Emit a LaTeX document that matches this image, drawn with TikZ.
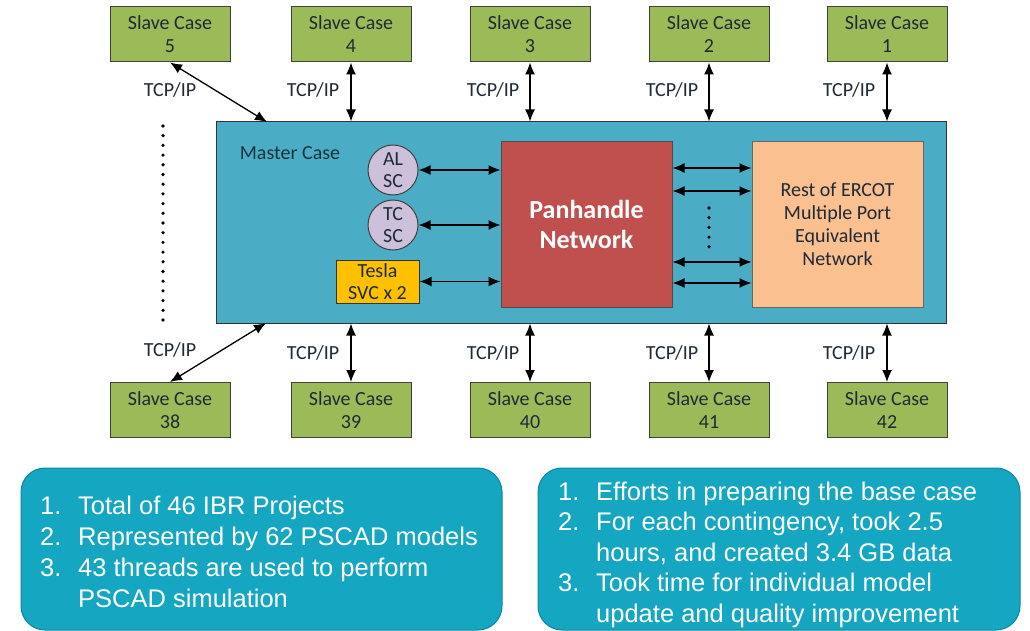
\documentclass[tikz,border=0pt]{standalone}
\usepackage{fontspec}
\setmainfont{Carlito}
\newfontfamily\arialfont{Liberation Sans}
\usetikzlibrary{arrows.meta}
\definecolor{slavegreen}{HTML}{9BBB59}
\definecolor{masterblue}{HTML}{4BACC6}
\definecolor{panred}{HTML}{C0504D}
\definecolor{restpeach}{HTML}{FAC090}
\definecolor{scpurple}{HTML}{CCC0DA}
\definecolor{teslayellow}{HTML}{FFC000}
\definecolor{infoteal}{HTML}{15A6C1}
\definecolor{darktext}{HTML}{1F2A36}
\tikzstyle{arrow} = [line width=1.3pt,<->,>={Latex[length=12pt,width=10pt]}]
\tikzstyle{slave} = [draw=black!75, line width=1pt, fill=slavegreen, minimum width=120pt, minimum height=55pt, inner sep=0pt, align=center, text=darktext, font=\fontsize{20}{23}\selectfont]
\tikzstyle{lbl} = [inner sep=0pt, text=darktext, font=\fontsize{20}{23}\selectfont]
\tikzstyle{sc} = [circle, draw=black!75, line width=1pt, fill=scpurple, minimum size=50pt, inner sep=0pt, align=center, text=darktext, font=\fontsize{20}{22}\selectfont]
\tikzstyle{dotline} = [line width=3.6pt, line cap=round, dash pattern=on 0pt off 9.7pt]
\tikzstyle{info} = [draw=infoteal!80!black, line width=1pt, fill=infoteal, rounded corners=24pt, inner sep=0pt]

\begin{document}
\begin{tikzpicture}[x=1pt, y=-1pt]
        \clip (0,0) rectangle (1030,631);
        % Master case
        \node[draw=black!80, line width=1pt, fill=masterblue, minimum width=730pt, minimum height=201pt, inner sep=0pt] (master) at (581,222.5) {};
        \node[lbl, text=masterblue!30!black] (mlabel) at (290,153) {Master Case};
        \node[sc] (al) at (393,170) {AL\\SC};
        \node[sc] (tc) at (393,225) {TC\\SC};
        \node[draw=black!80, line width=1pt, fill=teslayellow, minimum width=83pt, minimum height=43pt, inner sep=0pt, align=center, text=darktext, font=\fontsize{20}{22}\selectfont] (tesla) at (377.5,281.5) {Tesla\\SVC x 2};
        \node[draw=black!70, line width=1pt, fill=panred, minimum width=171pt, minimum height=165pt, inner sep=0pt, align=center, text=white, font=\fontsize{26}{30}\selectfont\bfseries] (pan) at (586.5,224.5) {Panhandle\\Network};
        \node[draw=black!60, line width=1pt, fill=restpeach, minimum width=171pt, minimum height=165pt, inner sep=0pt, align=center, text=darktext, font=\fontsize{20}{23}\selectfont] (rest) at (837.5,224.5) {Rest of ERCOT\\Multiple Port\\Equivalent\\Network};

        % Slave cases, top row
        \node[slave] (s5) at (170,34.5) {Slave Case\\5};
        \node[slave] (s4) at (351,34.5) {Slave Case\\4};
        \node[slave] (s3) at (530,34.5) {Slave Case\\3};
        \node[slave] (s2) at (709,34.5) {Slave Case\\2};
        \node[slave] (s1) at (887,34.5) {Slave Case\\1};

        % Slave cases, bottom row
        \node[slave] (s38) at (170,410) {Slave Case\\38};
        \node[slave] (s39) at (351,410) {Slave Case\\39};
        \node[slave] (s40) at (530,410) {Slave Case\\40};
        \node[slave] (s41) at (709,410) {Slave Case\\41};
        \node[slave] (s42) at (887,410) {Slave Case\\42};

        % TCP/IP labels
        \node[lbl] (t5) at (170,90) {TCP/IP};
        \node[lbl] (t4) at (313,90) {TCP/IP};
        \node[lbl] (t3) at (493,90) {TCP/IP};
        \node[lbl] (t2) at (672,90) {TCP/IP};
        \node[lbl] (t1) at (849,90) {TCP/IP};
        \node[lbl] (t38) at (170,350) {TCP/IP};
        \node[lbl] (t39) at (313,353) {TCP/IP};
        \node[lbl] (t40) at (493,353) {TCP/IP};
        \node[lbl] (t41) at (672,353) {TCP/IP};
        \node[lbl] (t42) at (849,353) {TCP/IP};

        \coordinate (m5) at (267,122);
        \coordinate (m38) at (266,323);

        \draw[arrow] (s5.south) -- (m5);
        \draw[arrow] (s4) -- (s4 |- master.north);
        \draw[arrow] (s3) -- (s3 |- master.north);
        \draw[arrow] (s2) -- (s2 |- master.north);
        \draw[arrow] (s1) -- (s1 |- master.north);
        \draw[arrow] (s38.north) -- (m38);
        \draw[arrow] (s39) -- (s39 |- master.south);
        \draw[arrow] (s40) -- (s40 |- master.south);
        \draw[arrow] (s41) -- (s41 |- master.south);
        \draw[arrow] (s42) -- (s42 |- master.south);

        \draw[arrow] (al) -- (al -| pan.west);
        \draw[arrow] (tc) -- (tc -| pan.west);
        \draw[arrow] (tesla) -- (tesla -| pan.west);
        \foreach \dy in {56.5,33.5,-37.5,-58.5}
            \draw[arrow] ([yshift=\dy pt]pan.east) -- ([yshift=\dy pt]rest.west);

        \draw[dotline] (163,126) -- (163,325);
        \draw[dotline] (709,208) -- (709,247);

        % Notes
        \node[info, minimum width=481pt, minimum height=162pt] (info1) at (261.5,549) {};
        \node[info, minimum width=482pt, minimum height=162pt] (info2) at (779,549) {};
        \node[anchor=base west, inner sep=0pt, text=white, font=\arialfont\fontsize{25.5}{31}\selectfont] (list1) at (40,514)
            {\begin{tabular}[t]{@{}p{38pt}@{}l@{}}
             1. & Total of 46 IBR Projects\\
             2. & Represented by 62 PSCAD models\\
             3. & 43 threads are used to perform\\
                & PSCAD simulation
             \end{tabular}};
        \node[anchor=base west, inner sep=0pt, text=white, font=\arialfont\fontsize{25.5}{30.5}\selectfont] (list2) at (558,500)
            {\begin{tabular}[t]{@{}p{38pt}@{}l@{}}
             1. & Efforts in preparing the base case\\
             2. & For each contingency, took 2.5\\
                & hours, and created 3.4 GB data\\
             3. & Took time for individual model\\
                & update and quality improvement
             \end{tabular}};
\end{tikzpicture}
\end{document}
